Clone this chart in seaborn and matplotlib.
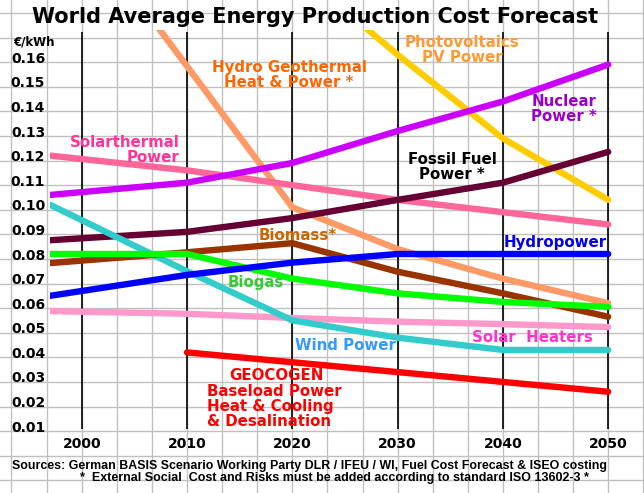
import matplotlib
matplotlib.use("Agg")
import matplotlib.pyplot as plt
import pandas as pd
import seaborn as sns

sns.set_theme(style="white")
plt.rcParams["font.family"] = ["DejaVu Sans"]
plt.rcParams["text.color"] = "black"

# ---------------- data ----------------
main_years = [1997, 2010, 2020, 2030, 2040, 2050]
nuclear_cost = [0.104, 0.109, 0.117, 0.130, 0.142, 0.157]
fossil_cost = [0.0856, 0.089, 0.0946, 0.102, 0.109, 0.1215]
solarthermal_cost = [0.120, 0.114, 0.108, 0.102, 0.097, 0.092]
hydropower_cost = [0.063, 0.0715, 0.0765, 0.080, 0.080, 0.080]
biogas_cost = [0.080, 0.080, 0.070, 0.064, 0.0605, 0.0585]
biomass_cost = [0.0763, 0.0807, 0.0844, 0.0728, 0.064, 0.0545]
solarheater_cost = [0.0568, 0.0557, 0.054, 0.0525, 0.0515, 0.0503]
wind_cost = [0.100, 0.073, 0.053, 0.046, 0.041, 0.041]

pv_years = [2025, 2030, 2040, 2050]
pv_cost = [0.179, 0.161, 0.127, 0.102]

hydgeo_years = [2005, 2020, 2030, 2040, 2050]
hydgeo_cost = [0.185, 0.099, 0.082, 0.070, 0.060]

geocogen_years = [2010, 2020, 2030, 2040, 2050]
geocogen_cost = [0.040, 0.036, 0.032, 0.028, 0.024]

y_ticks = [0.01, 0.02, 0.03, 0.04, 0.05, 0.06, 0.07, 0.08,
           0.09, 0.10, 0.11, 0.12, 0.13, 0.14, 0.15, 0.16]
x_ticks = [2000, 2010, 2020, 2030, 2040, 2050]

series = {
    "Photovoltaics": (pv_years, pv_cost, "#FFCC00"),
    "Hydro Geothermal": (hydgeo_years, hydgeo_cost, "#FF9966"),
    "Solarthermal": (main_years, solarthermal_cost, "#FF6699"),
    "Nuclear": (main_years, nuclear_cost, "#CC00FF"),
    "Fossil": (main_years, fossil_cost, "#660033"),
    "Solar Heaters": (main_years, solarheater_cost, "#FF99CC"),
    "Wind": (main_years, wind_cost, "#33CCCC"),
    "Biomass": (main_years, biomass_cost, "#993300"),
    "Biogas": (main_years, biogas_cost, "#00FF00"),
    "Hydropower": (main_years, hydropower_cost, "#0000FF"),
    "GEOCOGEN": (geocogen_years, geocogen_cost, "#FF0000"),
}

rows = []
for name, (yrs, vals, _) in series.items():
    for yr, v in zip(yrs, vals):
        rows.append({"year": yr, "cost": v, "source": name})
df = pd.DataFrame(rows)
palette = {k: v[2] for k, v in series.items()}

# ---------------- layout ----------------
W, H = 644, 493
X2000, PXY = 81.7, 10.53      # px of year 2000, px per year
Y008, PXV = 254.0, 2460.0      # px of 0.08, px per unit cost


def yr_at(px):
    return 2000 + (px - X2000) / PXY


def val_at(py):
    return 0.08 + (Y008 - py) / PXV


fig = plt.figure(figsize=(W / 100, H / 100), dpi=100)
fig.patch.set_facecolor("white")

# background spreadsheet grid over the whole figure
bg = fig.add_axes([0, 0, 1, 1], zorder=0)
bg.set_xlim(yr_at(0), yr_at(W))
bg.set_ylim(val_at(H), val_at(0))
bg.axis("off")
for k in range(-3, 18):
    bg.axvline(2000 + k * 10 / 3, color="#C0C0C0", lw=1.0)
for k in range(-10, 12):
    bg.axhline(0.078 + k * 0.01, color="#C0C0C0", lw=1.0)

# data axes
left_px, right_px, top_px, bot_px = X2000 + (1997 - 2000) * PXY, 636, 30, 432
ax = fig.add_axes([left_px / W, 1 - bot_px / H, (right_px - left_px) / W,
                   (bot_px - top_px) / H], zorder=1)
ax.patch.set_alpha(0)
ax.set_xlim(1997, yr_at(right_px))
ax.set_ylim(val_at(bot_px), val_at(top_px))
for s in ax.spines.values():
    s.set_visible(False)

ax.vlines(x_ticks, val_at(429), val_at(32), color="black", lw=1.2, zorder=1)

sns.lineplot(data=df, x="year", y="cost", hue="source", palette=palette,
             hue_order=list(series.keys()), estimator=None, sort=False,
             linewidth=4.6, legend=False, ax=ax, zorder=2)

ax.set_xlabel("")
ax.set_ylabel("")
ax.set_yticks(y_ticks)
ax.set_yticklabels([f"{v:.2f}" for v in y_ticks], fontsize=10,
                   fontweight="bold", color="black")
ax.set_xticks(x_ticks)
ax.set_xticklabels([str(v) for v in x_ticks], fontsize=10,
                   fontweight="bold", color="black")
ax.tick_params(axis="y", length=0, pad=3.5)
ax.tick_params(axis="x", length=0, pad=3.5)
ax.grid(False)


def ftxt(px, py, s, color="black", size=10.8, ha="center", **kw):
    return fig.text(px / W, 1 - py / H, s, color=color, fontsize=size,
                    fontweight="bold", ha=ha, va="center", **kw)


ftxt(315, 17, "World Average Energy Production Cost Forecast", size=15)
ftxt(13, 42, "€/kWh", size=8.5, ha="left")

ftxt(289, 75, "Hydro Geothermal\nHeat & Power *", color="#FF6600",
     linespacing=1.05)
ftxt(462, 50, "Photovoltaics\nPV Power", color="#FF9933", linespacing=1.0)
ftxt(564, 109, "Nuclear\nPower *", color="#9900CC", linespacing=1.0)
ftxt(452, 167, "Fossil Fuel\nPower *", color="black", linespacing=1.05)
ftxt(125, 143, "Solarthermal", color="#FF3399")
ftxt(153, 157, "Power", color="#FF3399")
ftxt(298, 235, "Biomass*", color="#CC6600")
ftxt(555, 242, "Hydropower", color="#0000EE")
ftxt(256, 283, "Biogas", color="#33CC33")
ftxt(345, 345, "Wind Power", color="#3399FF")
ftxt(532, 337, "Solar  Heaters", color="#FF33CC")
ftxt(276, 376, "GEOCOGEN", color="#FF0000")
ftxt(207, 392, "Baseload Power", color="#FF0000", ha="left")
ftxt(207, 407, "Heat & Cooling", color="#FF0000", ha="left")
ftxt(207, 422, "& Desalination", color="#FF0000", ha="left")

foot = ["Liberation Sans", "DejaVu Sans"]
f1 = fig.text(12 / W, 1 - 466 / H,
              "Sources: German BASIS Scenario Working Party DLR / IFEU / WI, "
              "Fuel Cost Forecast & ISEO costing",
              family=foot, fontsize=9, fontweight="bold", ha="left",
              va="center", color="black")
f2 = fig.text(80 / W, 1 - 478 / H,
              "*  External Social  Cost and Risks must be added according to "
              "standard ISO 13602-3 *",
              family=foot, fontsize=9, fontweight="bold", ha="left",
              va="center", color="black")

# fit footer lines to the widths they occupy in the reference
fig.canvas.draw()
r = fig.canvas.get_renderer()
for t, target in ((f1, 593), (f2, 510)):
    w = t.get_window_extent(r).width
    t.set_fontsize(9 * target / w)

fig.savefig("out.png", dpi=100, facecolor="white")
